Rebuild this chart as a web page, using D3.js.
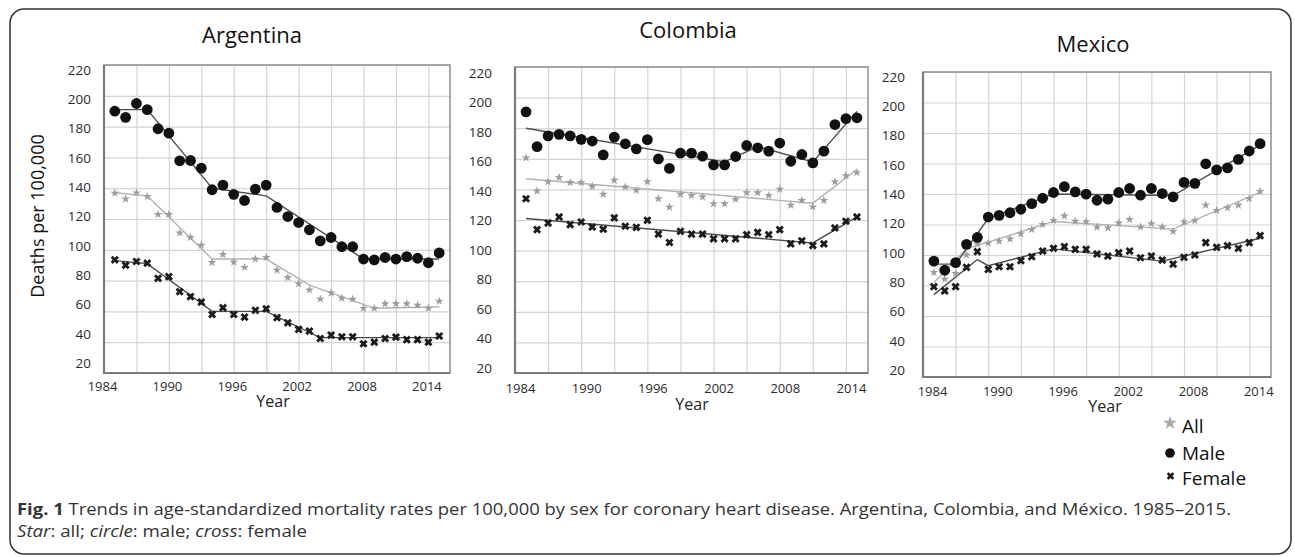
<!DOCTYPE html>
<html>
<head>
<meta charset="utf-8">
<script src="https://cdn.jsdelivr.net/npm/d3@7"></script>
<style>
body { margin: 0; background: #fff; }
svg { display: block; font-family: "Open Sans", "Noto Sans", sans-serif; }
.grid line { stroke: #d4d4d4; stroke-width: 1.2; }
.grid path { display: none; }
.labels path { display: none; }
.labels text { fill: #2b2b2b; }
</style>
</head>
<body>
<div id="chart"></div>
<script>
// years of data, ticks
var years = [1985,1986,1987,1988,1989,1990,1991,1992,1993,1994,1995,1996,1997,1998,1999,2000,
             2001,2002,2003,2004,2005,2006,2007,2008,2009,2010,2011,2012,2013,2014,2015];
var yTicks = [20,40,60,80,100,120,140,160,180,200,220];
var xTickLabels = [1984,1990,1996,2002,2008,2014];
var xGridYears = [1987,1990,1993,1996,1999,2002,2005,2008,2011,2014];

// Argentina
var argMale = [190,186,195,191,178.6,175.8,157.8,158,153,139,142,136,132,139.4,142,127.5,
               121.6,117.7,113,105.8,108,102,102,94,93.5,95,94,95.6,94.5,91.6,98];
var argAll = [136.8,133,137,134.6,123,123,111,108,103,91.8,97,92,88.6,94,95,86.7,
              82,78,74,68,72,68.6,68,62,62,65,65,65,64,62,66.7];
var argFemale = [93.5,90,92.4,91.3,81.5,82.6,72.8,69.6,66,58,62.4,58,56.3,60.7,61.7,55.9,
                 52.6,48.3,47.2,42.4,44.6,43.5,43.5,39,40,42.4,43.3,41.7,41.7,40,44];
var argMaleTrend = [[1985,191],[1988,191],[1994,140],[1999,135],[2008,94],[2015,94]];
var argAllTrend = [[1985,137],[1988,135],[1994,94],[1999,94],[2003,77],[2009,62],[2015,63]];
var argFemaleTrend = [[1985,93],[1988,91],[1994,60],[1999,60],[2004,43],[2015,43]];

// Colombia
var colMale = [190.7,168,175,176,175,172.7,171.6,162.6,174.2,169.8,166.5,172.5,159.9,153.7,163.7,163.7,
               161.7,156,156,161.5,168.7,167.2,165,170.3,158.4,162.8,157.3,165,182.4,186.3,186.8];
var colAll = [160.6,139,145,147.8,144.5,144.5,141.9,136.8,146,141.6,139.4,145,133.9,128.4,136.8,136.1,
              135,130.6,130.6,133.5,137.9,137.9,136.1,140.1,129.7,132.8,128.6,132.8,145,149,151];
var colFemale = [133.9,113.7,118,122,117,118.7,115.4,114,121.4,115.9,115.2,119.8,110.8,105.3,112.6,110.8,
                 110.8,107.7,107.7,107.7,110.4,111.9,110.4,113.7,104.4,106.4,103.3,104.4,114.8,119.2,122];
var colMaleTrend = [[1985,180],[2003,158],[2006,168],[2011,158],[2015,191]];
var colAllTrend = [[1985,147],[2011,131],[2015,153]];
var colFemaleTrend = [[1985,121],[2011,105],[2015,122]];

// Mexico
var mexMale = [96,90,95,107,111.6,124.9,126,127.7,130,133.7,137.2,141,144.8,141.4,139.9,135.9,
               136.6,141,143.6,139.2,143.6,140.3,138.1,147.6,147,159.8,155.8,157.1,162.7,168.2,173];
var mexAll = [88.6,84.2,87.9,100,107.2,107.8,109,110.5,113.8,116.7,120,122.7,125.6,122.2,121.8,118.2,
              117.7,121,123.3,118.4,120.6,118.4,115.5,121.7,122.6,132.7,129.2,131,132.6,137,141.7];
var mexFemale = [79.2,76.5,79.2,91.9,102.2,90.6,92.3,92.3,96.3,98.9,102.6,104.4,105.5,103.7,103.7,100.7,
                 99.3,101.5,102.6,98.2,99.3,96.7,94,98.5,100,108.1,105,106.1,104.4,108.1,112.7];
var mexMaleTrend = [[1985,94],[1987,94],[1990,124],[1996,140],[2007,139],[2015,172]];
var mexAllTrend = [[1985,82],[1988,104],[1996,122],[2007,117],[2015,141]];
var mexFemaleTrend = [[1985,74],[1989,97],[1990,93],[1996,104],[2006,96],[2015,111]];

var legendLabels = ["All", "Male", "Female"];

var width = 1295, height = 557;

var svg = d3.select("#chart").append("svg")
    .attr("width", width)
    .attr("height", height);

// outer frame
svg.append("rect")
    .attr("x", 10).attr("y", 9)
    .attr("width", 1281).attr("height", 545)
    .attr("rx", 14)
    .attr("fill", "none")
    .attr("stroke", "#333")
    .attr("stroke-width", 1.5);

var panels = [
    {title: "Argentina", titleX: 252, titleY: 43, x0: 104, x1: 450, top: 65, bottom: 373,
     labTop: 70, labBottom: 363, labRight: 91, xLabY: 386, xLabDx: -2, yearX: 273, yearY: 407,
     male: argMale, all: argAll, female: argFemale,
     maleTrend: argMaleTrend, allTrend: argAllTrend, femaleTrend: argFemaleTrend},
    {title: "Colombia", titleX: 688, titleY: 38, x0: 515, x1: 868, top: 67, bottom: 373,
     labTop: 73, labBottom: 368, labRight: 492, xLabY: 388, xLabDx: 5, yearX: 692, yearY: 410,
     male: colMale, all: colAll, female: colFemale,
     maleTrend: colMaleTrend, allTrend: colAllTrend, femaleTrend: colFemaleTrend},
    {title: "Mexico", titleX: 1093, titleY: 52, x0: 923, x1: 1271, top: 72, bottom: 377,
     labTop: 77, labBottom: 370, labRight: 905, xLabY: 391, xLabDx: 9, yearX: 1105, yearY: 412,
     male: mexMale, all: mexAll, female: mexFemale,
     maleTrend: mexMaleTrend, allTrend: mexAllTrend, femaleTrend: mexFemaleTrend}
];

var star = d3.symbol().type(d3.symbolStar).size(24);
var cross = d3.symbol().type(d3.symbolCross).size(42);

panels.forEach(function(p) {
    var x = d3.scaleLinear().domain([1984, 2016]).range([p.x0, p.x1]);
    var y = d3.scaleLinear().domain([20, 220]).range([p.bottom, p.top]);
    // tick labels in the picture are spaced a bit tighter than the grid
    var yLab = d3.scaleLinear().domain([20, 220]).range([p.labBottom, p.labTop]);

    var g = svg.append("g");

    g.append("rect")
        .attr("x", p.x0).attr("y", p.top)
        .attr("width", p.x1 - p.x0).attr("height", p.bottom - p.top)
        .attr("fill", "#fff");

    // grid
    g.append("g")
        .attr("class", "grid")
        .attr("transform", "translate(" + p.x0 + ",0)")
        .call(d3.axisLeft(y).tickValues(yTicks).tickSize(-(p.x1 - p.x0)).tickFormat(""));
    g.append("g")
        .attr("class", "grid")
        .attr("transform", "translate(0," + p.bottom + ")")
        .call(d3.axisBottom(x).tickValues(xGridYears).tickSize(p.bottom - p.top).tickFormat(""))
        .selectAll("line").attr("y2", -(p.bottom - p.top));

    // plot frame
    g.append("rect")
        .attr("x", p.x0).attr("y", p.top)
        .attr("width", p.x1 - p.x0).attr("height", p.bottom - p.top)
        .attr("fill", "none")
        .attr("stroke", "#8f8f8f")
        .attr("stroke-width", 1.5);
    g.append("path")
        .attr("d", "M" + p.x0 + "," + p.top + "V" + p.bottom + "H" + p.x1)
        .attr("fill", "none")
        .attr("stroke", "#7a7a7a")
        .attr("stroke-width", 2.2);

    // y labels
    g.append("g")
        .attr("class", "labels")
        .attr("transform", "translate(" + p.labRight + ",0)")
        .call(d3.axisLeft(yLab).tickValues(yTicks).tickSize(0).tickPadding(0))
        .selectAll("text")
        .style("font-size", "13.5px")
        .style("font-family", "'Open Sans', sans-serif");

    // x labels
    var fs = 13;
    g.append("g")
        .attr("class", "labels")
        .attr("transform", "translate(" + p.xLabDx + "," + p.bottom + ")")
        .call(d3.axisBottom(x).tickValues(xTickLabels).tickFormat(d3.format("d"))
            .tickSize(0).tickPadding(p.xLabY - p.bottom - 0.36 * fs))
        .selectAll("text")
        .style("font-size", fs + "px")
        .style("font-family", "'Open Sans', sans-serif");

    // trend lines
    var line = d3.line()
        .x(function(d) { return x(d[0]); })
        .y(function(d) { return y(d[1]); });

    [[p.allTrend, "#b3b3b3"], [p.maleTrend, "#4d4d4d"], [p.femaleTrend, "#4d4d4d"]].forEach(function(t) {
        g.append("path")
            .datum(t[0])
            .attr("fill", "none")
            .attr("stroke", t[1])
            .attr("stroke-width", 1.4)
            .attr("d", line);
    });

    // points
    g.selectAll(".star")
        .data(p.all)
        .enter().append("path")
        .attr("d", star)
        .attr("fill", "#9c9c9c")
        .attr("transform", function(d, i) {
            return "translate(" + x(years[i]) + "," + y(d) + ")";
        });

    g.selectAll(".dot")
        .data(p.male)
        .enter().append("circle")
        .attr("cx", function(d, i) { return x(years[i]); })
        .attr("cy", function(d) { return y(d); })
        .attr("r", 5.4)
        .attr("fill", "#111");

    g.selectAll(".cross")
        .data(p.female)
        .enter().append("path")
        .attr("d", cross)
        .attr("fill", "#1c1c1c")
        .attr("transform", function(d, i) {
            return "translate(" + x(years[i]) + "," + y(d) + ") rotate(45)";
        });

    // titles
    svg.append("text")
        .attr("x", p.titleX).attr("y", p.titleY)
        .attr("text-anchor", "middle")
        .attr("fill", "#111")
        .style("font-size", "22px")
        .text(p.title);

    svg.append("text")
        .attr("x", p.yearX).attr("y", p.yearY)
        .attr("text-anchor", "middle")
        .attr("fill", "#222")
        .style("font-size", "16px")
        .text("Year");
});

// y axis title
svg.append("text")
    .attr("transform", "translate(44,216) rotate(-90)")
    .attr("text-anchor", "middle")
    .attr("fill", "#111")
    .style("font-size", "18px")
    .text("Deaths per 100,000");

// legend
var legend = svg.append("g").attr("transform", "translate(1170,0)");
var legendY = [426, 453, 478];

legend.append("path")
    .attr("d", d3.symbol().type(d3.symbolStar).size(60))
    .attr("fill", "#a8a8a8")
    .attr("transform", "translate(0," + (legendY[0] - 3) + ")");
legend.append("circle")
    .attr("cx", 0).attr("cy", legendY[1])
    .attr("r", 4.8)
    .attr("fill", "#111");
legend.append("path")
    .attr("d", d3.symbol().type(d3.symbolCross).size(36))
    .attr("fill", "#1c1c1c")
    .attr("transform", "translate(0.5," + (legendY[2] - 2) + ") rotate(45)");

legend.selectAll("text")
    .data(legendLabels)
    .enter().append("text")
    .attr("x", 12)
    .attr("y", function(d, i) { return legendY[i] + 7; })
    .attr("fill", "#111")
    .style("font-size", "19px")
    .text(function(d) { return d; });

// caption
var cap1 = svg.append("text")
    .attr("x", 17).attr("y", 515)
    .attr("fill", "#333")
    .style("font-size", "15.5px")
    .attr("textLength", 1214)
    .attr("lengthAdjust", "spacingAndGlyphs");
cap1.append("tspan").style("font-weight", "bold").text("Fig. 1");
cap1.append("tspan").text(" Trends in age-standardized mortality rates per 100,000 by sex for coronary heart disease. Argentina, Colombia, and México. 1985–2015.");

var cap2 = svg.append("text")
    .attr("x", 17).attr("y", 537)
    .attr("fill", "#333")
    .style("font-size", "15.5px")
    .attr("textLength", 290)
    .attr("lengthAdjust", "spacingAndGlyphs");
cap2.append("tspan").style("font-style", "italic").text("Star");
cap2.append("tspan").text(": all; ");
cap2.append("tspan").style("font-style", "italic").text("circle");
cap2.append("tspan").text(": male; ");
cap2.append("tspan").style("font-style", "italic").text("cross");
cap2.append("tspan").text(": female");
</script>
</body>
</html>
